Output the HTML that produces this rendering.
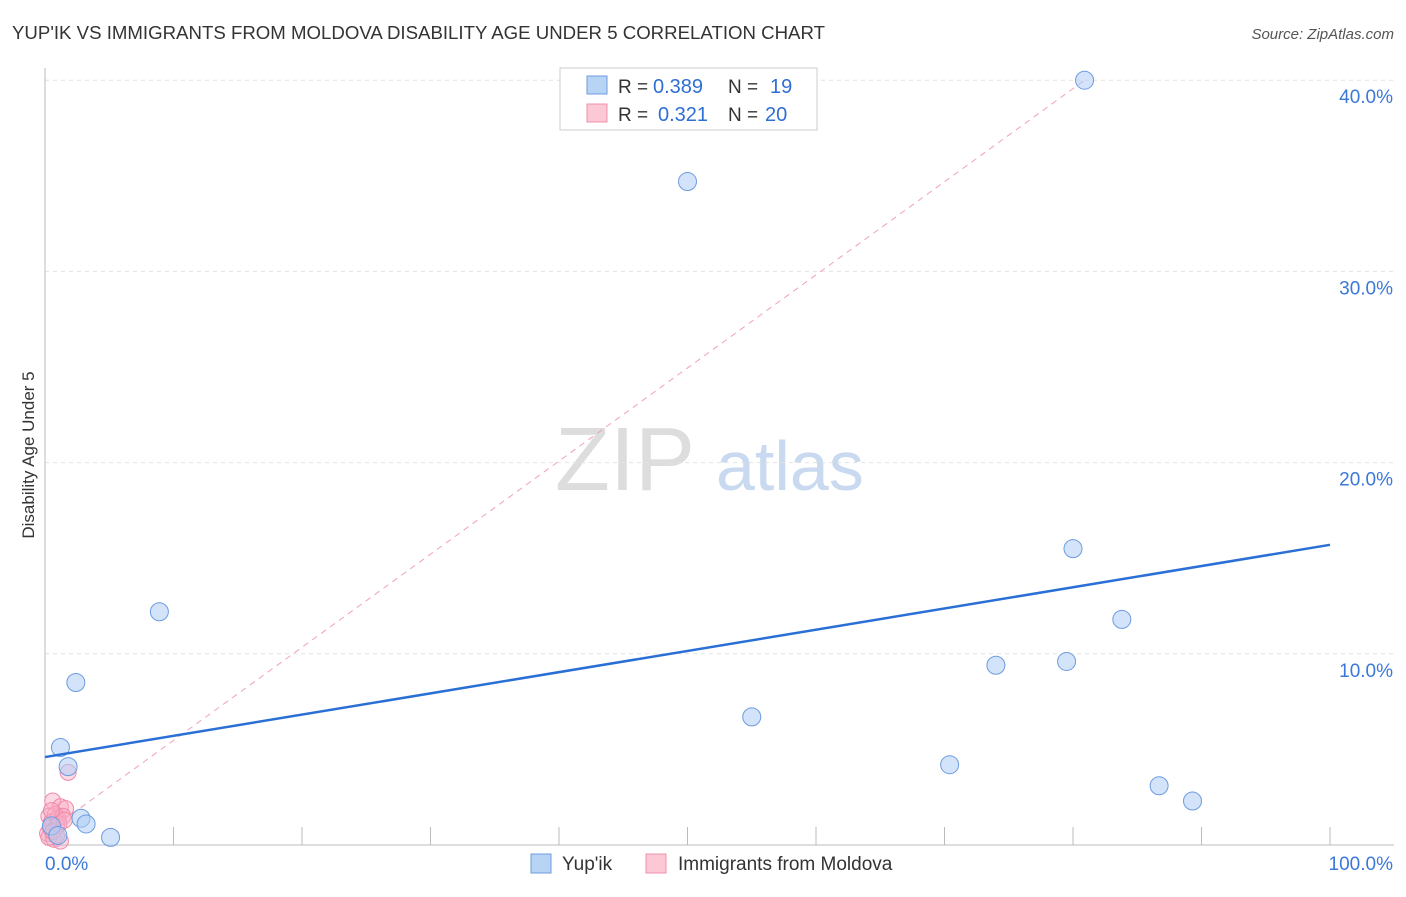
<!DOCTYPE html>
<html><head><meta charset="utf-8"><style>
body{margin:0;background:#fff;font-family:"Liberation Sans",sans-serif;}
svg text{font-family:"Liberation Sans",sans-serif;}
</style></head><body>
<svg id="c" width="1406" height="892">
<text x="12" y="39" font-size="18" fill="#333" textLength="813" lengthAdjust="spacingAndGlyphs">YUP'IK VS IMMIGRANTS FROM MOLDOVA DISABILITY AGE UNDER 5 CORRELATION CHART</text>
<text x="1394" y="39" font-size="15" fill="#555" font-style="italic" text-anchor="end">Source: ZipAtlas.com</text>
<text x="34" y="455" font-size="17" fill="#333" text-anchor="middle" transform="rotate(-90 34 455)">Disability Age Under 5</text>
<text x="555" y="490" font-size="90" fill="#ddd" font-family="Liberation Serif">ZIP</text>
<text x="716" y="490" font-size="70" fill="#c8d9f0">atlas</text>
<g id="grid"></g><g id="marks"></g>
<g>
<rect x="560" y="68" width="257" height="62" fill="#fff" stroke="#ccc"/>
<rect x="587" y="76" width="20" height="18" fill="#b8d4f5" stroke="#6d9be0"/>
<rect x="587" y="104" width="20" height="18" fill="#fcc8d6" stroke="#f090aa"/>
<text x="618" y="93" font-size="19" fill="#333">R =</text>
<text x="653" y="93" font-size="20" fill="#2f6fd4">0.389</text>
<text x="728" y="93" font-size="19" fill="#333">N =</text>
<text x="770" y="93" font-size="20" fill="#2f6fd4">19</text>
<text x="618" y="121" font-size="19" fill="#333">R =</text>
<text x="658" y="121" font-size="20" fill="#2f6fd4">0.321</text>
<text x="728" y="121" font-size="19" fill="#333">N =</text>
<text x="765" y="121" font-size="20" fill="#2f6fd4">20</text>
</g>
<g>
<rect x="531" y="854" width="20" height="19" fill="#b8d4f5" stroke="#6d9be0"/>
<text x="562" y="870" font-size="19" fill="#333">Yup'ik</text>
<rect x="646" y="854" width="20" height="19" fill="#fcc8d6" stroke="#f090aa"/>
<text x="678" y="870" font-size="19" fill="#333">Immigrants from Moldova</text>
</g>
</svg>
<script>
const yTicks=[10,20,30,40];
const yTickLabels=["10.0%","20.0%","30.0%","40.0%"];
const blueX=[0.5,1.0,1.2,1.8,2.4,2.8,3.2,5.1,8.9,50,80.9,55,70.4,74,79.5,80,83.8,86.7,89.3];
const blueY=[1.0,0.5,5.1,4.1,8.5,1.4,1.1,0.4,12.2,34.7,40,6.7,4.2,9.4,9.6,15.5,11.8,3.1,2.3];
const pinkX=[1.8,0.6,1.2,1.6,0.3,0.8,0.5,1.0,0.4,0.9,1.4,0.2,0.7,1.2,0.5,1.1,0.3,1.5,0.6,0.9];
const pinkY=[3.8,2.3,2.0,1.9,1.5,1.6,1.2,1.4,0.9,1.0,1.5,0.6,0.3,0.2,1.8,1.1,0.4,1.3,0.7,0.5];
const blueFit=[4.6,15.7];
const pinkFit=[0.6,0.487];
const NS="http://www.w3.org/2000/svg";
const X=v=>45+v*12.85, Y=v=>845-v*19.12;
function mk(t,a,p){const e=document.createElementNS(NS,t);for(const k in a)e.setAttribute(k,a[k]);p.appendChild(e);return e;}
const g=document.getElementById('grid'),m=document.getElementById('marks');
yTicks.forEach((t,i)=>{
 const l=mk('line',{x1:45,x2:1394,y1:Y(t),y2:Y(t),stroke:'#e2e2e2','stroke-dasharray':'4,4'},g);
 
 
 const tx=mk('text',{x:1393,y:Y(t)+23,'font-size':19,fill:'#3b78d8','text-anchor':'end'},g);
 tx.textContent=yTickLabels[i];
 
 
});
mk('line',{x1:45,x2:45,y1:68,y2:845,stroke:'#bbb'},g);
mk('line',{x1:45,x2:1394,y1:845,y2:845,stroke:'#bbb'},g);
for(let i=1;i<=10;i++){mk('line',{x1:45+i*128.5,x2:45+i*128.5,y1:827,y2:845,stroke:'#bbb'},g);}
const x0=mk('text',{x:45,y:870,'font-size':19,fill:'#3b78d8'},g);x0.textContent='0.0%';


const x1=mk('text',{x:1393,y:870,'font-size':19,fill:'#3b78d8','text-anchor':'end'},g);x1.textContent='100.0%';


const pl=mk('line',{x1:X(0),y1:Y(pinkFit[0]),x2:X(81),y2:Y(pinkFit[0]+pinkFit[1]*81),stroke:'#f0a0b8','stroke-dasharray':'6,5','stroke-width':1},m);


pinkX.forEach((x,i)=>{const c=mk('circle',{cx:X(x),cy:Y(pinkY[i]),r:8,fill:'rgba(248,170,195,0.45)',stroke:'#ee8aa8','stroke-width':1},m);
 
 });
blueX.forEach((x,i)=>{const c=mk('circle',{cx:X(x),cy:Y(blueY[i]),r:9,fill:'rgba(175,205,245,0.55)',stroke:'#6d9be0','stroke-width':1},m);
 
 });
const bl=mk('line',{x1:X(0),y1:Y(blueFit[0]),x2:X(100),y2:Y(blueFit[1]),stroke:'#2a6fd6','stroke-width':2.5},m);


</script>
</body></html>
